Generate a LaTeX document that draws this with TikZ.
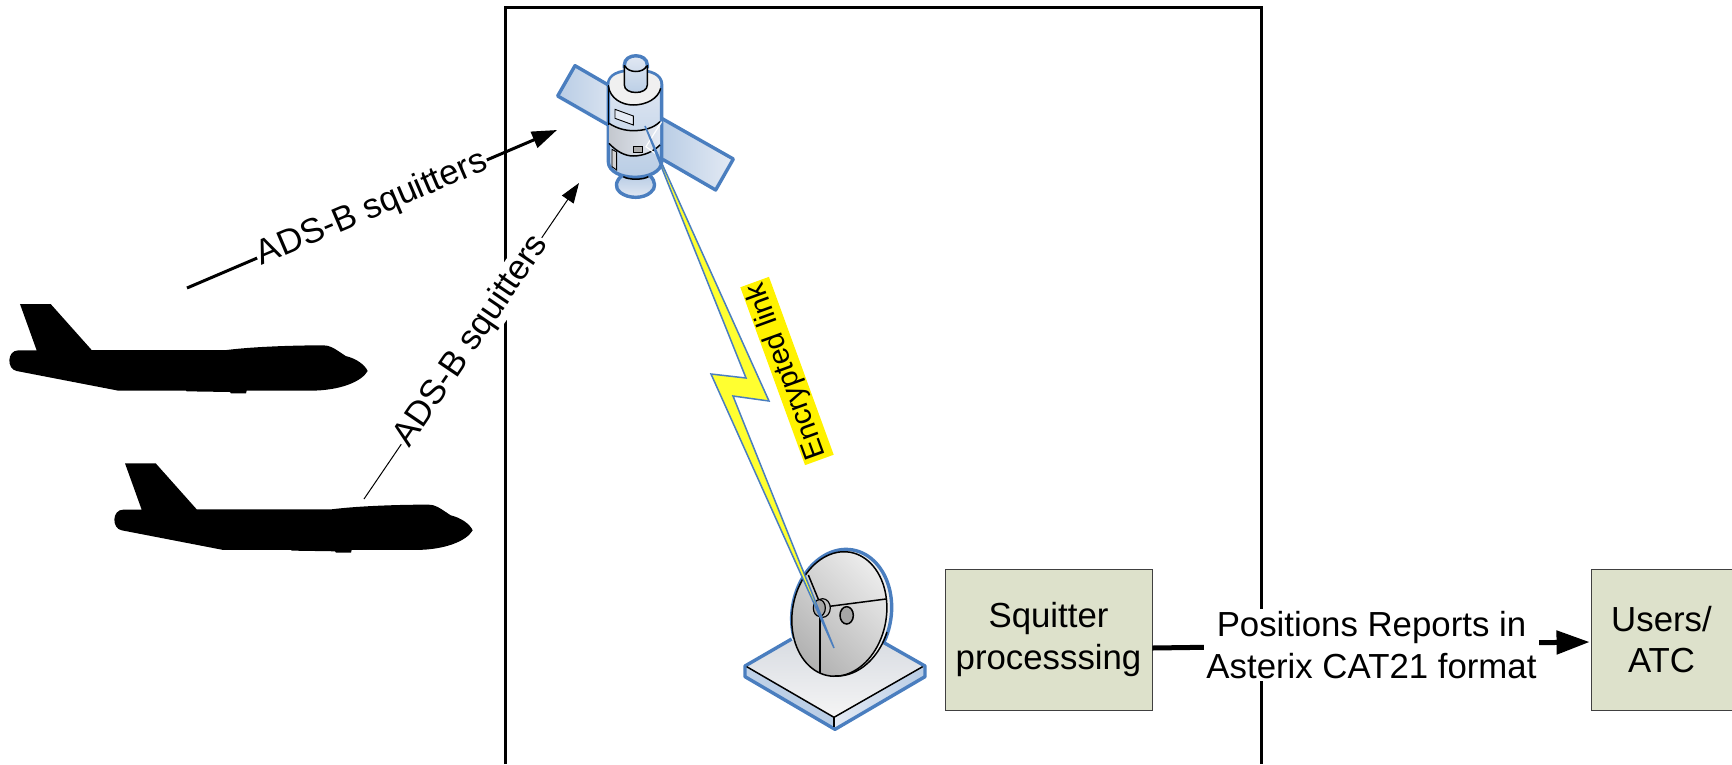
\documentclass[tikz,border=0pt]{standalone}
\usepackage{fontspec}
\setmainfont{Liberation Sans}
\usetikzlibrary{arrows.meta,calc}
\definecolor{linkblue}{HTML}{4A7EBF}
\definecolor{boxfill}{HTML}{DDE1CB}
\definecolor{boltfill}{HTML}{FFFF30}
\definecolor{panelA}{HTML}{B9CDE5}
\definecolor{panelB}{HTML}{E4EAF4}
\newcommand\planeshape{(60,72) -- (152,72) -- (275,210) -- (680,210) .. controls (760,200) and (880,196) .. (970,196) .. controls (990,196) and (1000,203) .. (1037,228) .. controls (1070,236) and (1095,255) .. (1103,273) .. controls (1085,305) and (1020,332) .. (930,332) -- (740,332) -- (738,340) -- (693,340) -- (690,336) -- (560,334) -- (558,332) -- (355,332) -- (50,273) .. controls (20,268) and (20,211) .. (55,211) -- (110,211) -- cycle}
\tikzset{
  zoomed/.style={x=0.33333pt,y=-0.33333pt},
  bigtext/.style={font=\fontsize{34.8}{41.5}\selectfont},
  procbox/.style={draw=black!75,line width=0.9pt,fill=boxfill,bigtext,align=center,inner sep=0pt},
  linklabel/.style={fill=white,bigtext,inner sep=2pt,align=center},
  blueline/.style={draw=linkblue,line width=3.4pt,line join=round},
  blackline/.style={draw=black,line width=1.5pt},
}
\begin{document}
\begin{tikzpicture}[x=1pt,y=-1pt]
\useasboundingbox (0,0) rectangle (1732,764);
% frame
\draw[line width=3pt,line join=miter] (505,764) -- (505,7) -- (1261,7) -- (1261,764);

% aeroplanes
\begin{scope}[shift={(0,280)},zoomed]
  \fill[black] \planeshape;
\end{scope}
\begin{scope}[shift={(105,439.3)},zoomed]
  \fill[black] \planeshape;
\end{scope}

% satellite
\begin{scope}[shift={(520,30)},zoomed]
  \shade[left color=panelA,right color=panelB!70!panelA] (165,107) -- (265,165) -- (265,285) -- (113,198) -- cycle;
  \draw[blueline] (265,165) -- (165,107) -- (113,198) -- (265,285);
  \shade[left color=panelA,right color=panelB] (425,265) -- (640,387) -- (587,480) -- (428,388) -- cycle;
  \draw[blueline] (425,265) -- (640,387) -- (587,480) -- (428,388);
  % flange
  \shade[top color=panelA,bottom color=panelB,blueline] (305,437) .. controls (285,455) and (285,475) .. (300,487) .. controls (325,507) and (370,507) .. (392,487) .. controls (408,475) and (408,455) .. (390,437) -- cycle;
  % body
  \shade[top color=panelB,bottom color=panelA,blueline] (265,165) .. controls (265,135) and (295,122) .. (345,120) .. controls (395,122) and (425,135) .. (425,165) -- (425,395) .. controls (425,425) and (385,442) .. (345,442) .. controls (305,442) and (265,425) .. (265,395) -- cycle;
  \fill[black!6] (268,165) .. controls (268,137) and (295,126) .. (345,124) .. controls (395,126) and (421,137) .. (421,165) .. controls (421,205) and (380,225) .. (340,225) .. controls (300,225) and (268,205) .. (268,165) -- cycle;
  \draw[blackline] (265,168) .. controls (270,205) and (305,225) .. (340,225) .. controls (380,225) and (415,205) .. (422,175);
  \shade[left color=gray!32!panelB,right color=panelB] (267,280) .. controls (290,295) and (315,302) .. (340,302) .. controls (370,302) and (400,295) .. (420,275) -- (420,340) .. controls (400,365) and (370,378) .. (340,378) .. controls (315,378) and (290,365) .. (267,340) -- cycle;
  \draw[blackline] (267,280) .. controls (290,295) and (315,302) .. (340,302) .. controls (370,302) and (400,295) .. (420,275);
  \draw[blackline] (267,340) .. controls (290,365) and (315,378) .. (340,378) .. controls (370,378) and (400,365) .. (420,345);
  \draw[blackline] (265,165) -- (265,285);
  % panels of the body
  \draw[black,line width=0.9pt,fill=panelB] (285,238) -- (340,258) -- (340,285) -- (285,265) -- cycle;
  \draw[black,line width=0.9pt,fill=gray!65] (340,350) -- (367,350) -- (367,368) -- (340,368) -- cycle;
  \draw[black,line width=0.9pt,fill=gray!35] (276,358) -- (290,366) -- (290,420) -- (276,410) -- cycle;
  \draw[blackline] (310,440) .. controls (325,450) and (370,450) .. (385,440);
  % white cracks
  \draw[white,line width=1.2pt] (425,275) -- (378,350) -- (408,372);
  % top antenna
  \shade[top color=panelB,bottom color=panelA] (313,105) .. controls (313,70) and (382,70) .. (382,105) -- (382,165) .. controls (382,195) and (313,195) .. (313,165) -- cycle;
  \draw[blueline] (313,115) -- (313,105) .. controls (313,68) and (382,68) .. (382,105) -- (382,115);
  \draw[blackline] (313,105) -- (313,165) .. controls (313,195) and (382,195) .. (382,165) -- (382,105);
  \draw[blackline] (315,108) .. controls (325,130) and (370,130) .. (380,108);
\end{scope}

% dish
\begin{scope}[shift={(720,520)},zoomed]
  \shade[top color=panelB!80!gray,bottom color=black!4] (78,440) -- (345,290) -- (612,440) -- (342,592) -- cycle;
  \shade[left color=panelA!90!white,right color=panelA] (78,440) -- (342,592) -- (342,625) -- (78,470) -- cycle;
  \shade[left color=panelB,right color=panelA] (342,592) -- (612,440) -- (612,470) -- (342,625) -- cycle;
  \draw[blueline] (215,357) -- (75,438) -- (75,470) -- (345,628) -- (615,470) -- (615,438) -- (490,367);
  \draw[blackline] (80,440) -- (342,592) -- (608,440);
  \draw[blackline] (342,592) -- (342,622);
  % rim and face
  \fill[black!6] plot[domain=0:360,samples=90] ({365+192*cos(\x)*0.174+148.5*sin(\x)*0.985},{279-192*cos(\x)*0.985+148.5*sin(\x)*0.174}) -- cycle;
  \draw[blueline] plot[domain=-121:111,samples=70] ({365+192*cos(\x)*0.174+148.5*sin(\x)*0.985},{279-192*cos(\x)*0.985+148.5*sin(\x)*0.174});
  \shade[top color=black!8,bottom color=black!30,shading angle=-45,draw=black,line width=1.5pt] plot[domain=0:360,samples=90] ({358+188*cos(\x)*0.174+141*sin(\x)*0.985},{282-188*cos(\x)*0.985+141*sin(\x)*0.174}) -- cycle;
  \draw[blackline] plot[domain=100:175,samples=30] ({365+190*cos(\x)*0.174+146*sin(\x)*0.985},{279-190*cos(\x)*0.985+146*sin(\x)*0.174});
  % spokes
  \draw[blackline] (305,262) -- (265,165);
  \draw[blackline] (305,262) -- (498,237);
  \draw[blackline] (300,262) -- (300,460);
  % hub and knob
  \draw[black,line width=1.2pt,fill=black!25] (308,264) ellipse [x radius=23,y radius=28];
  \draw[black,line width=1.2pt,fill=black!35] (298,264) ellipse [x radius=18,y radius=25];
  \draw[black,line width=1.5pt,fill=black!35] (380,286) ellipse [x radius=20,y radius=26];
\end{scope}

% end points
\coordinate (satTip) at (645,126);
\coordinate (boltR) at (769,401);
\coordinate (boltRi) at (733,396);
\coordinate (dishTip) at (834,648);
\coordinate (boltL) at (711,374);
\coordinate (boltLi) at (746,378);
\coordinate (planeA) at (187,288);
\coordinate (satA) at (557,130);
\coordinate (planeB) at (364,499);
\coordinate (satB) at (579,183);

% lightning bolt
\draw[draw=linkblue,line width=1.5pt,fill=boltfill,line join=miter] (satTip) -- (boltR) -- (boltRi) -- (dishTip) -- (boltL) -- (boltLi) -- cycle;

% boxes
\node[procbox,minimum width=207pt,minimum height=141pt] (squit) at (1048.5,639.5) {Squitter\\processsing};
\node[procbox,minimum width=141pt,minimum height=141pt] (users) at (1661.5,639.5) {Users/\\ATC};

% connectors
\draw[line width=3pt,-{Triangle[length=25pt,width=17pt]}] (planeA) -- node[midway,rotate=23.1,fill=white,bigtext,inner sep=1pt] (lblA) {ADS-B squitters} (satA);
\draw[line width=1pt,-{Triangle[length=20pt,width=14pt]}] (planeB) -- node[midway,rotate=55.8,fill=white,bigtext,inner sep=1pt] (lblB) {ADS-B squitters} (satB);
\draw[line width=5pt,-{Triangle[length=33pt,width=23pt]},shorten >=1pt] ([yshift=-8.5pt]squit.east) -- node[midway,linklabel] (lblC) {Positions Reports in\\Asterix CAT21 format} ([yshift=-2.5pt]users.west);

% link label
\node[fill=yellow,rotate=110,font=\fontsize{29.5}{33}\selectfont,inner xsep=2pt,inner ysep=1.5pt] (lblLink) at (787,371) {Encrypted link};
\end{tikzpicture}
\end{document}
